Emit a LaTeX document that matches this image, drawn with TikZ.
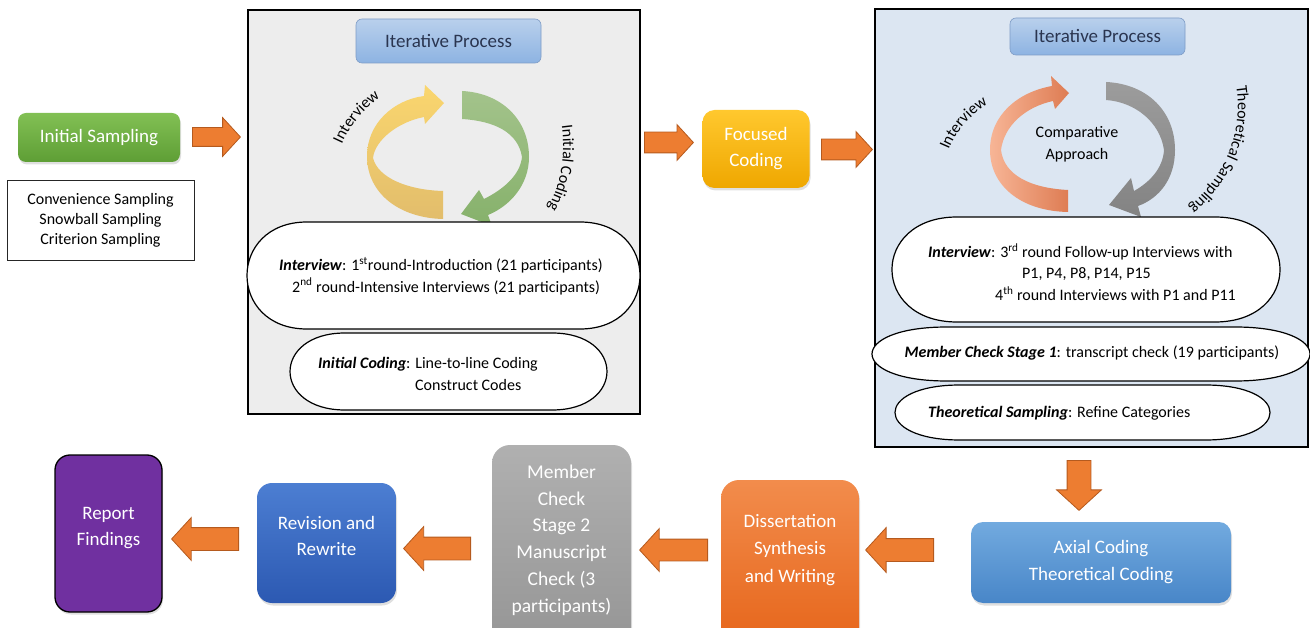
\documentclass[tikz,border=0pt]{standalone}
\usepackage{fontspec}
\setmainfont{Carlito}
\usetikzlibrary{shapes.arrows,calc,shadows,decorations.text}
\definecolor{arrowfill}{HTML}{ED7D31}
\definecolor{arrowline}{HTML}{B55A1E}
\definecolor{graybg}{HTML}{EDEDED}
\definecolor{bluebg}{HTML}{DCE6F2}
\definecolor{itertop}{HTML}{B9D0EC}
\definecolor{iterbot}{HTML}{8DB3E2}
\definecolor{iterline}{HTML}{7E9CC6}
\definecolor{greentop}{HTML}{82C054}
\definecolor{greenbot}{HTML}{5E9E35}
\definecolor{yellowtop}{HTML}{FFC82E}
\definecolor{yellowbot}{HTML}{EFA700}
\definecolor{axialtop}{HTML}{72AADF}
\definecolor{axialbot}{HTML}{4886C8}
\definecolor{disstop}{HTML}{F28C4C}
\definecolor{dissbot}{HTML}{E6651A}
\definecolor{memtop}{HTML}{B0B0B0}
\definecolor{membot}{HTML}{959595}
\definecolor{revtop}{HTML}{4C7ED2}
\definecolor{revbot}{HTML}{2C59B2}
\definecolor{reportfill}{HTML}{7030A0}
\definecolor{cycyeltop}{HTML}{FAD66E}
\definecolor{cycyelbot}{HTML}{E2BD6C}
\definecolor{cycgrntop}{HTML}{A3C38B}
\definecolor{cycgrnbot}{HTML}{86B16B}
\definecolor{cycorgl}{HTML}{F7B596}
\definecolor{cycorgr}{HTML}{DE7C53}
\definecolor{cycgrytop}{HTML}{9C9C9C}
\definecolor{cycgrybot}{HTML}{838383}
\definecolor{itertext}{HTML}{2A3550}
\newcommand\capsulepath[3]{%
  \draw[capline] ($(#1.north west)+(#2,0)$) -- ($(#1.north east)+(-#2,0)$)
    .. controls ($(#1.north east)+(#3,0)$) and ($(#1.south east)+(#3,0)$) .. ($(#1.south east)+(-#2,0)$)
    -- ($(#1.south west)+(#2,0)$)
    .. controls ($(#1.south west)+(-#3,0)$) and ($(#1.north west)+(-#3,0)$) .. cycle;}
\begin{document}
\begin{tikzpicture}[x=1pt,y=-1pt,
  txt/.style={font=\fontsize{16}{21.5}\selectfont, inner sep=0pt},
  procbox/.style={rounded corners=13pt, text=white, align=center,
    font=\fontsize{19}{26.5}\selectfont, inner sep=0pt,
    drop shadow={opacity=0.25,shadow xshift=1pt,shadow yshift=-2.5pt}},
  iterbox/.style={rounded corners=6pt, top color=itertop, bottom color=iterbot,
    draw=iterline, line width=0.6pt, text=itertext, font=\fontsize{19}{22}\selectfont, inner sep=0pt},
  capline/.style={draw=black, fill=white, line width=1.2pt},
  holder/.style={inner sep=0pt, outer sep=0pt},
  barrow/.style={single arrow, draw=arrowline, fill=arrowfill, line width=0.8pt,
    inner xsep=0pt, text height=0pt, text depth=0pt, single arrow tip angle=95, anchor=tail},
  curvelabel/.style={decorate, decoration={text along path, text align=center,
    text={|\fontsize{16}{16}\selectfont|#1}}}
]
\useasboundingbox (0,0) rectangle (1310,628);

% ---------- panels ----------
\node[draw=black, line width=1.3pt, fill=graybg, minimum width=392pt, minimum height=404pt, holder] (leftpanel) at (444,212) {};
\node[draw=black, line width=1.3pt, fill=bluebg, minimum width=433pt, minimum height=438pt, holder] (rightpanel) at (1091.5,228) {};

% ---------- left column ----------
\node[procbox, rounded corners=8pt, top color=greentop, bottom color=greenbot,
  minimum width=162pt, minimum height=49pt] (initS) at (99,137.5) {Initial Sampling};
\node[draw=black!85, line width=0.7pt, fill=white, minimum width=187pt, minimum height=80pt,
  align=center, font=\fontsize{16}{20}\selectfont, inner sep=0pt] (samp) at (100.5,220)
  {Convenience Sampling\\Snowball Sampling\\Criterion Sampling};

% ---------- left panel content ----------
\node[iterbox, minimum width=185pt, minimum height=44pt] (iter1) at (448.5,41) {Iterative Process};

\shade[top color=cycyeltop, bottom color=cycyelbot]
  (443,219) .. controls (400,218) and (367,194) .. (367,156)
  .. controls (367,124) and (393,100) .. (424,96)
  -- (425,85) -- (444,103) -- (425,124) -- (424,117)
  .. controls (398,122) and (375,140) .. (373,158)
  .. controls (378,178) and (408,190) .. (443,191) -- cycle;
\shade[top color=cycgrntop, bottom color=cycgrnbot]
  (462,91) .. controls (502,93) and (529,120) .. (529,157)
  .. controls (529,185) and (510,206) .. (488,215)
  -- (492,226) -- (461,214) -- (479,190) -- (484,199)
  .. controls (502,190) and (520,176) .. (522,157)
  .. controls (518,132) and (494,121) .. (462,119) -- cycle;

\path[curvelabel={Interview}] (336,160) .. controls (345,130) and (362,108) .. (394,87);
\path[curvelabel={Initial Coding}] (559,110) .. controls (568,150) and (563,190) .. (539,222);

\node[holder, minimum width=393pt, minimum height=107pt] (cap1) at (443.5,275.5) {};
\capsulepath{cap1}{60}{20}
\node[holder, minimum width=317pt, minimum height=77pt] (cap2) at (448.5,371.5) {};
\capsulepath{cap2}{55}{18.3}

\node[txt, anchor=west, align=left] (cap1text) at (279,276)
  {\textbf{\textit{Interview}}: 1\textsuperscript{st}round-Introduction (21 participants)\\
   \hspace*{13pt}2\textsuperscript{nd} round-Intensive Interviews (21 participants)};
\node[txt, anchor=west, align=left] (cap2text) at (318,374)
  {\textbf{\textit{Initial Coding}}: Line-to-line Coding\\
   \hspace*{97pt}Construct Codes};

% ---------- focused coding ----------
\node[procbox, rounded corners=12pt, top color=yellowtop, bottom color=yellowbot,
  minimum width=107pt, minimum height=78pt, font=\fontsize{19}{26}\selectfont] (focus) at (756,149) {Focused\\Coding};

% ---------- right panel content ----------
\node[iterbox, minimum width=175pt, minimum height=37pt] (iter2) at (1097.5,36.5) {Iterative Process};

\shade[left color=cycorgl, right color=cycorgr]
  (1068,212) .. controls (1020,211) and (990,185) .. (990,150)
  .. controls (990,115) and (1018,92) .. (1052,86)
  -- (1051,76) -- (1069,93) -- (1055,109) -- (1053,101)
  .. controls (1025,107) and (1004,126) .. (1001,150)
  .. controls (1004,175) and (1030,188) .. (1068,190) -- cycle;
\shade[top color=cycgrytop, bottom color=cycgrybot]
  (1106,82) .. controls (1148,84) and (1175,112) .. (1175,150)
  .. controls (1175,178) and (1160,198) .. (1138,206)
  -- (1141,217) -- (1109,205) -- (1131,178) -- (1134,191)
  .. controls (1150,182) and (1163,168) .. (1164,150)
  .. controls (1160,122) and (1135,102) .. (1106,100) -- cycle;

\node[txt, align=center, font=\fontsize{16}{22}\selectfont] (comp) at (1077,144) {Comparative\\Approach};
\path[curvelabel={Interview}] (944,163) .. controls (952,135) and (968,114) .. (1000,97);
\path[curvelabel={Theoretical Sampling}] (1233,70) .. controls (1246,120) and (1234,175) .. (1176,218);

\node[holder, minimum width=388pt, minimum height=105pt] (cap3) at (1086,269.5) {};
\capsulepath{cap3}{65}{21.7}
\node[holder, minimum width=438pt, minimum height=54pt] (cap4) at (1091,354) {};
\capsulepath{cap4}{75}{25}
\node[holder, minimum width=375pt, minimum height=55pt] (cap5) at (1082.5,412.5) {};
\capsulepath{cap5}{65}{21.7}

\node[txt, anchor=west, align=left] (cap3text) at (928,272)
  {\textbf{\textit{Interview}}: 3\textsuperscript{rd} round Follow-up Interviews with\\
   \hspace*{94pt}P1, P4, P8, P14, P15\\
   \hspace*{67pt}4\textsuperscript{th} round Interviews with P1 and P11};
\node[txt] (cap4text) at (1092,353)
  {\textbf{\textit{Member Check Stage 1}}: transcript check (19 participants)};
\node[txt, anchor=west] (cap5text) at (928,413)
  {\textbf{\textit{Theoretical Sampling}}: Refine Categories};

% ---------- bottom row ----------
\node[procbox, rounded corners=12pt, top color=axialtop, bottom color=axialbot,
  minimum width=260pt, minimum height=81pt, font=\fontsize{19}{27}\selectfont] (axial) at (1101,562.5) {Axial Coding\\Theoretical Coding};
\node[procbox, rounded corners=18pt, top color=disstop, bottom color=dissbot,
  minimum width=138pt, minimum height=168pt] (diss) at (790,564) {};
\node[holder, text=white, align=center, font=\fontsize{19}{27.5}\selectfont] (disstext) at (790,550) {Dissertation\\Synthesis\\and Writing};
\node[procbox, rounded corners=18pt, top color=memtop, bottom color=membot,
  minimum width=139pt, minimum height=205pt] (member) at (561.5,547.5) {};
\node[holder, text=white, align=center, font=\fontsize{19.5}{26.8}\selectfont] (membertext) at (561.5,540)
  {Member\\Check\\Stage 2\\Manuscript\\Check (3\\participants)};
\node[procbox, rounded corners=15pt, top color=revtop, bottom color=revbot,
  minimum width=139pt, minimum height=120pt] (revision) at (326.5,543) {};
\node[holder, text=white, align=center, font=\fontsize{19}{26}\selectfont] (revisiontext) at (326.5,536) {Revision and\\Rewrite};
\node[procbox, rounded corners=15pt, fill=reportfill, draw=black, line width=1.3pt,
  minimum width=107pt, minimum height=157pt] (report) at (108.5,533.5) {};
\node[holder, text=white, align=center, font=\fontsize{19}{26}\selectfont] (reporttext) at (108.5,528) {Report\\Findings};

% ---------- block arrows (connectors), placed by their tails ----------
\node[barrow, minimum height=48pt, inner ysep=9pt, single arrow head extend=10pt] (a1) at (192,137) {};
\node[barrow, minimum height=49pt, inner ysep=10pt, single arrow head extend=7.5pt] (a2) at (644,142.5) {};
\node[barrow, minimum height=51pt, inner ysep=10pt, single arrow head extend=7.5pt] (a3) at (821,149.5) {};
\node[barrow, minimum height=50pt, inner ysep=11.5pt, inner xsep=11.5pt, single arrow head extend=10.5pt, shape border rotate=270] (a4) at (1079,460) {};
\node[barrow, minimum height=68pt, inner ysep=11pt, single arrow head extend=11pt, shape border rotate=180] (a5) at (934,550) {};
\node[barrow, minimum height=68pt, inner ysep=10.5pt, single arrow head extend=10.5pt, shape border rotate=180] (a6) at (708,550) {};
\node[barrow, minimum height=67pt, inner ysep=11pt, single arrow head extend=10.5pt, shape border rotate=180] (a7) at (471,548.5) {};
\node[barrow, minimum height=67pt, inner ysep=11pt, single arrow head extend=10pt, shape border rotate=180] (a8) at (239,539) {};
\end{tikzpicture}
\end{document}
